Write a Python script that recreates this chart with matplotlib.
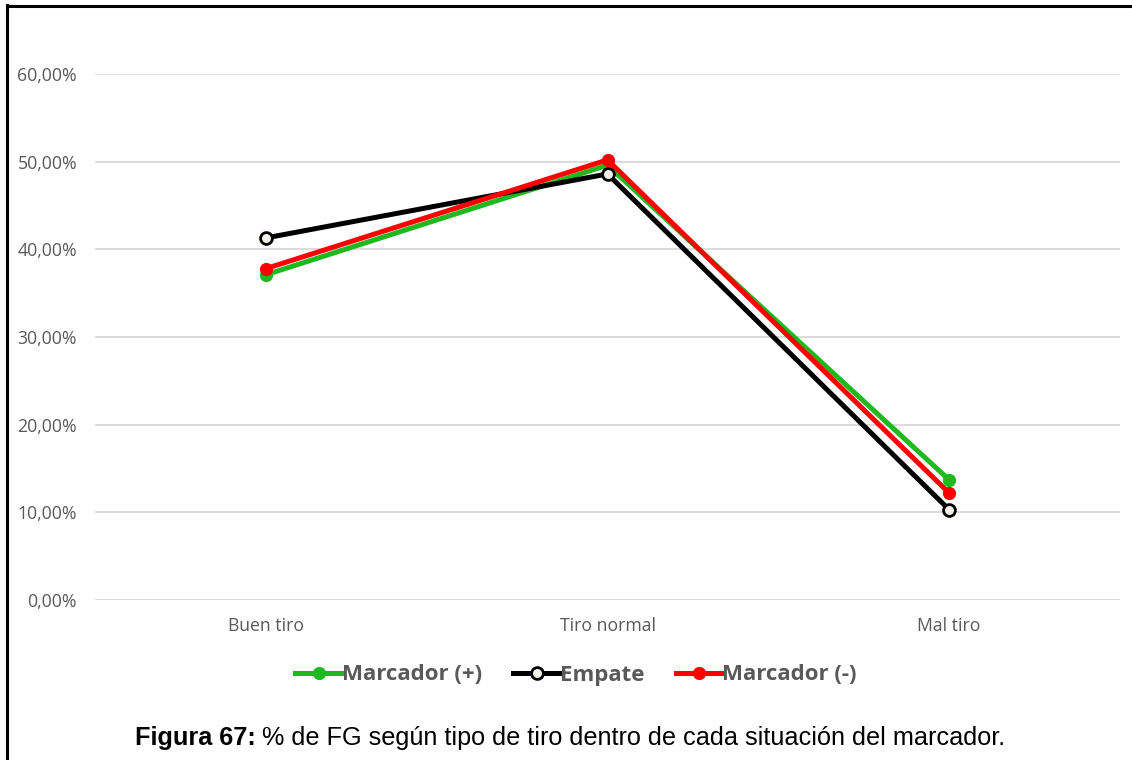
import matplotlib
matplotlib.use("Agg")
import matplotlib.pyplot as plt
from matplotlib.ticker import FuncFormatter, MultipleLocator
from matplotlib.lines import Line2D

categories = ["Buen tiro", "Tiro normal", "Mal tiro"]
marcador_pos = [0.371, 0.496, 0.137]
empate = [0.413, 0.486, 0.103]
marcador_neg = [0.378, 0.502, 0.122]
series_names = ["Marcador (+)", "Empate", "Marcador (-)"]
caption_bold = "Figura 67:"
caption_rest = " % de FG según tipo de tiro dentro de cada situación del marcador."

W, H = 1132, 760
fig = plt.figure(figsize=(W / 100, H / 100), dpi=100)
ax = fig.add_axes([95 / W, 1 - 600 / H, (1120 - 95) / W, (600 - 74) / H])

x = [i + 0.5 for i in range(len(categories))]
green = "#1fb81f"
red = "#ff0000"
black = "#000000"
LW = 3.6
MS = 8.5

ax.plot(x, marcador_pos, color=green, lw=LW, marker="o", ms=MS,
        mfc=green, mec=green, zorder=3, solid_capstyle="round")
ax.plot(x, empate, color=black, lw=LW, marker="o", ms=MS,
        mfc="#f2f2e8", mec=black, mew=2.0, zorder=4, solid_capstyle="round")
ax.plot(x, marcador_neg, color=red, lw=LW, marker="o", ms=MS,
        mfc=red, mec=red, zorder=5, solid_capstyle="round")

ax.set_xlim(0, 3)
ax.set_ylim(0, 0.6)
ax.yaxis.set_major_locator(MultipleLocator(0.1))
ax.yaxis.set_major_formatter(FuncFormatter(lambda v, p: f"{v*100:.2f}%".replace(".", ",")))
ax.set_xticks(x)
ax.set_xticklabels(categories)
ax.grid(axis="y", color="#d9d9d9", lw=1.3)
ax.set_axisbelow(True)
for s in ax.spines.values():
    s.set_visible(False)
ax.tick_params(axis="both", length=0, colors="#595959", labelsize=12.7)
ax.tick_params(axis="y", pad=13)
ax.tick_params(axis="x", pad=12)
for lbl in ax.get_xticklabels() + ax.get_yticklabels():
    lbl.set_fontfamily("Open Sans")

handles = [
    Line2D([], [], color=green, lw=LW, marker="o", ms=MS, mfc=green, mec=green),
    Line2D([], [], color=black, lw=LW, marker="o", ms=MS, mfc="#f2f2e8", mec=black, mew=2.0),
    Line2D([], [], color=red, lw=LW, marker="o", ms=MS, mfc=red, mec=red),
]
leg = fig.legend(handles, series_names, loc="center", bbox_to_anchor=(576 / W, 1 - 675 / H),
                 ncol=3, frameon=False, handlelength=2.1, handletextpad=0.0,
                 columnspacing=1.4, prop={"family": "Open Sans", "weight": "bold", "size": 16})
for t in leg.get_texts():
    t.set_color("#595959")

# caption
fig.canvas.draw()
r = fig.canvas.get_renderer()
t1 = fig.text(0, 1 - 738 / H, caption_bold, fontsize=18.2, fontweight="bold",
              family="Liberation Sans", va="center", ha="left")
t2 = fig.text(0, 1 - 738 / H, caption_rest, fontsize=18.2,
              family="Liberation Sans", va="center", ha="left")
w1 = t1.get_window_extent(r).width
w2 = t2.get_window_extent(r).width
start = 570 - (w1 + w2) / 2
t1.set_x(start / W)
t2.set_x((start + w1) / W)

# border lines (top and left)
fig.add_artist(Line2D([7 / W, 7 / W], [0, 1 - 5 / H], color="black", lw=2.2, transform=fig.transFigure))
fig.add_artist(Line2D([7 / W, 1], [1 - 6 / H, 1 - 6 / H], color="black", lw=2.2, transform=fig.transFigure))

fig.savefig("out.png", dpi=100, facecolor="white")
